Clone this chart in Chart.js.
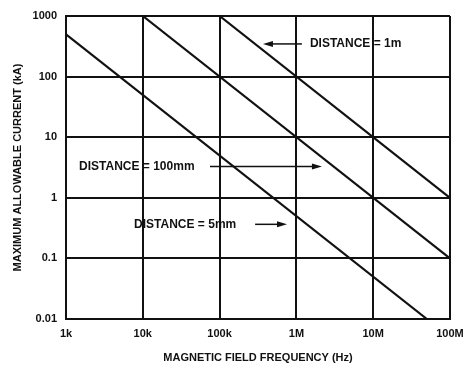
<!DOCTYPE html>
<html>
<head>
<meta charset="utf-8">
<script src="https://cdn.jsdelivr.net/npm/chart.js@4/dist/chart.umd.min.js"></script>
<style>
  html, body { margin: 0; padding: 0; background: #fff; }
  #wrap { width: 467px; height: 371px; }
</style>
</head>
<body>
<div id="wrap"><canvas id="fieldChart"></canvas></div>
<script>
// log-log: frequency (Hz) vs max current (kA)
var freqTicks = [1e3, 1e4, 1e5, 1e6, 1e7, 1e8];
var freqLabels = ["1k", "10k", "100k", "1M", "10M", "100M"];
var currentTicks = [0.01, 0.1, 1, 10, 100, 1000];
var currentLabels = ["0.01", "0.1", "1", "10", "100", "1000"];

var freq5mm = [1e3, 5e7];
var cur5mm = [500, 0.01];
var freq100mm = [1e4, 1e8];
var cur100mm = [1000, 0.1];
var freq1m = [1e5, 1e8];
var cur1m = [1000, 1];

// callouts: text, text x/y (data), arrow from x -> to x (data)
var noteText = ["DISTANCE = 1m", "DISTANCE = 100mm", "DISTANCE = 5mm"];
var noteX = [1.5e6, 1.48e3, 7.7e3];
var noteY = [346, 3.28, 0.365];
var arrowFrom = [1.18e6, 7.5e4, 2.9e5];
var arrowTo = [3.67e5, 2.15e6, 7.55e5];

function pts(xs, ys) {
    return xs.map(function (x, i) { return { x: x, y: ys[i] }; });
}

var font = "'Liberation Sans', Arial, sans-serif";

var callouts = {
    id: 'callouts',
    afterDatasetsDraw: function (chart) {
        var ctx = chart.ctx;
        var sx = chart.scales.x, sy = chart.scales.y;
        ctx.save();
        ctx.fillStyle = '#111';
        ctx.strokeStyle = '#111';
        ctx.font = 'bold 12px ' + font;
        ctx.textBaseline = 'middle';
        for (var i = 0; i < noteText.length; i++) {
            var y = sy.getPixelForValue(noteY[i]);
            ctx.fillText(noteText[i], sx.getPixelForValue(noteX[i]), y);
            var x0 = sx.getPixelForValue(arrowFrom[i]);
            var x1 = sx.getPixelForValue(arrowTo[i]);
            var dir = x1 > x0 ? 1 : -1;
            ctx.lineWidth = 1.5;
            ctx.beginPath();
            ctx.moveTo(x0, y);
            ctx.lineTo(x1 - dir * 8, y);
            ctx.stroke();
            ctx.beginPath();
            ctx.moveTo(x1, y);
            ctx.lineTo(x1 - dir * 10, y - 3);
            ctx.lineTo(x1 - dir * 10, y + 3);
            ctx.closePath();
            ctx.fill();
        }
        ctx.restore();
    }
};

window.onload = function () {
    var ctx = document.getElementById("fieldChart").getContext('2d');
    var lineStyle = { borderColor: '#111', borderWidth: 2.2, pointRadius: 0, showLine: true, fill: false };
    var myChart = new Chart(ctx, {
        type: 'scatter',
        data: {
            datasets: [
                Object.assign({ label: '5mm', data: pts(freq5mm, cur5mm) }, lineStyle),
                Object.assign({ label: '100mm', data: pts(freq100mm, cur100mm) }, lineStyle),
                Object.assign({ label: '1m', data: pts(freq1m, cur1m) }, lineStyle)
            ]
        },
        options: {
            responsive: true,
            maintainAspectRatio: false,
            animation: false,
            layout: { padding: { top: 16, right: 17, left: 0, bottom: 0 } },
            plugins: { legend: { display: false }, tooltip: { enabled: false } },
            scales: {
                x: {
                    type: 'logarithmic',
                    min: 1e3,
                    max: 1e8,
                    afterBuildTicks: function (s) { s.ticks = freqTicks.map(function (v) { return { value: v }; }); },
                    afterFit: function (s) { s.height = 52; s.paddingLeft = 0; s.paddingRight = 0; },
                    ticks: {
                        autoSkip: false, maxRotation: 0, padding: 8, color: '#111',
                        font: { family: font, size: 11, weight: 'bold' },
                        callback: function (v) { return freqLabels[freqTicks.indexOf(v)]; }
                    },
                    grid: { color: '#111', lineWidth: 2, drawTicks: false },
                    border: { color: '#111', width: 2 },
                    title: {
                        display: true, text: 'MAGNETIC FIELD FREQUENCY (Hz)', color: '#111',
                        font: { family: font, size: 11, weight: 'bold' },
                        padding: { top: 0, bottom: 6 }
                    }
                },
                y: {
                    type: 'logarithmic',
                    min: 0.01,
                    max: 1000,
                    afterBuildTicks: function (s) { s.ticks = currentTicks.map(function (v) { return { value: v }; }); },
                    afterFit: function (s) { s.width = 66; s.paddingTop = 0; s.paddingBottom = 0; },
                    ticks: {
                        autoSkip: false, padding: 9, color: '#111',
                        font: { family: font, size: 11, weight: 'bold' },
                        callback: function (v) { return currentLabels[currentTicks.indexOf(v)]; }
                    },
                    grid: { color: '#111', lineWidth: 2, drawTicks: false },
                    border: { color: '#111', width: 2 },
                    title: {
                        display: true, text: 'MAXIMUM ALLOWABLE CURRENT (kA)', color: '#111',
                        font: { family: font, size: 11, weight: 'bold' },
                        padding: { top: 11, bottom: 0 }
                    }
                }
            }
        },
        plugins: [callouts]
    });
};
</script>
</body>
</html>
